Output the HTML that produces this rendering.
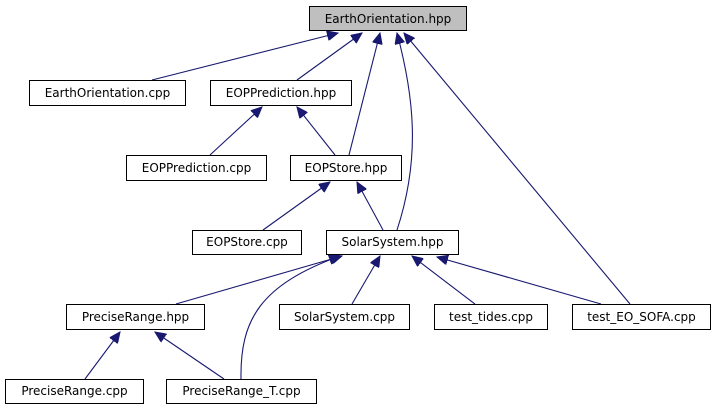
<!DOCTYPE html>
<html><head><meta charset="utf-8"><style>
html,body{margin:0;padding:0;background:#fff;}
svg{display:block;}
text{font-family:"DejaVu Sans","Liberation Sans",sans-serif;font-size:12px;fill:#000;}
</style></head><body>
<svg width="717" height="411" viewBox="0 0 717 411" xmlns="http://www.w3.org/2000/svg">
<defs>
<marker id="a" markerUnits="userSpaceOnUse" markerWidth="12" markerHeight="10" refX="11" refY="5" orient="auto">
<path d="M0,0 L11,5 L0,10 Z" fill="#191970" stroke="#191970"/>
</marker>
</defs>
<g stroke="#191970" stroke-width="1.1" fill="none" marker-end="url(#a)">
<path d="M152,80 L338,33"/>
<path d="M297,80 L362,33"/>
<path d="M349,155 L380,33"/>
<path d="M397,230 C420,160 415,100 397,33"/>
<path d="M630,304 L404,33"/>
<path d="M210,155 L262,107"/>
<path d="M335,155 L297,107"/>
<path d="M263,230 L330,182"/>
<path d="M383,230 L357,182"/>
<path d="M176,304 L342,256"/>
<path d="M241,379 C240,320 260,285 340,256"/>
<path d="M352,304 L380,256"/>
<path d="M475,304 L412,256"/>
<path d="M601,304 L437,257"/>
<path d="M85,379 L120,332"/>
<path d="M224,379 L155,332"/>
</g>
<g stroke="#000" stroke-width="1" fill="#fff">
<rect x="309.5" y="6.5" width="157" height="24" fill="#bfbfbf"/>
<rect x="29.5" y="80.5" width="156" height="25"/>
<rect x="210.5" y="80.5" width="141" height="25"/>
<rect x="126.5" y="155.5" width="140" height="25"/>
<rect x="290.5" y="155.5" width="111" height="25"/>
<rect x="192.5" y="230.5" width="109" height="24"/>
<rect x="326.5" y="230.5" width="132" height="24"/>
<rect x="66.5" y="304.5" width="138" height="25"/>
<rect x="279.5" y="304.5" width="130" height="25"/>
<rect x="434.5" y="304.5" width="113" height="25"/>
<rect x="572.5" y="304.5" width="138" height="25"/>
<rect x="5.5" y="379.5" width="138" height="24"/>
<rect x="166.5" y="379.5" width="150" height="24"/>
</g>
<g text-anchor="middle">
<text x="388" y="23">EarthOrientation.hpp</text>
<text x="107.5" y="97">EarthOrientation.cpp</text>
<text x="281" y="97">EOPPrediction.hpp</text>
<text x="196.5" y="172">EOPPrediction.cpp</text>
<text x="346" y="172">EOPStore.hpp</text>
<text x="247" y="246">EOPStore.cpp</text>
<text x="392.5" y="246">SolarSystem.hpp</text>
<text x="135.5" y="321">PreciseRange.hpp</text>
<text x="344.5" y="321">SolarSystem.cpp</text>
<text x="491" y="321">test_tides.cpp</text>
<text x="641.5" y="321">test_EO_SOFA.cpp</text>
<text x="74.5" y="395">PreciseRange.cpp</text>
<text x="241.5" y="395">PreciseRange_T.cpp</text>
</g>
</svg>
</body></html>
